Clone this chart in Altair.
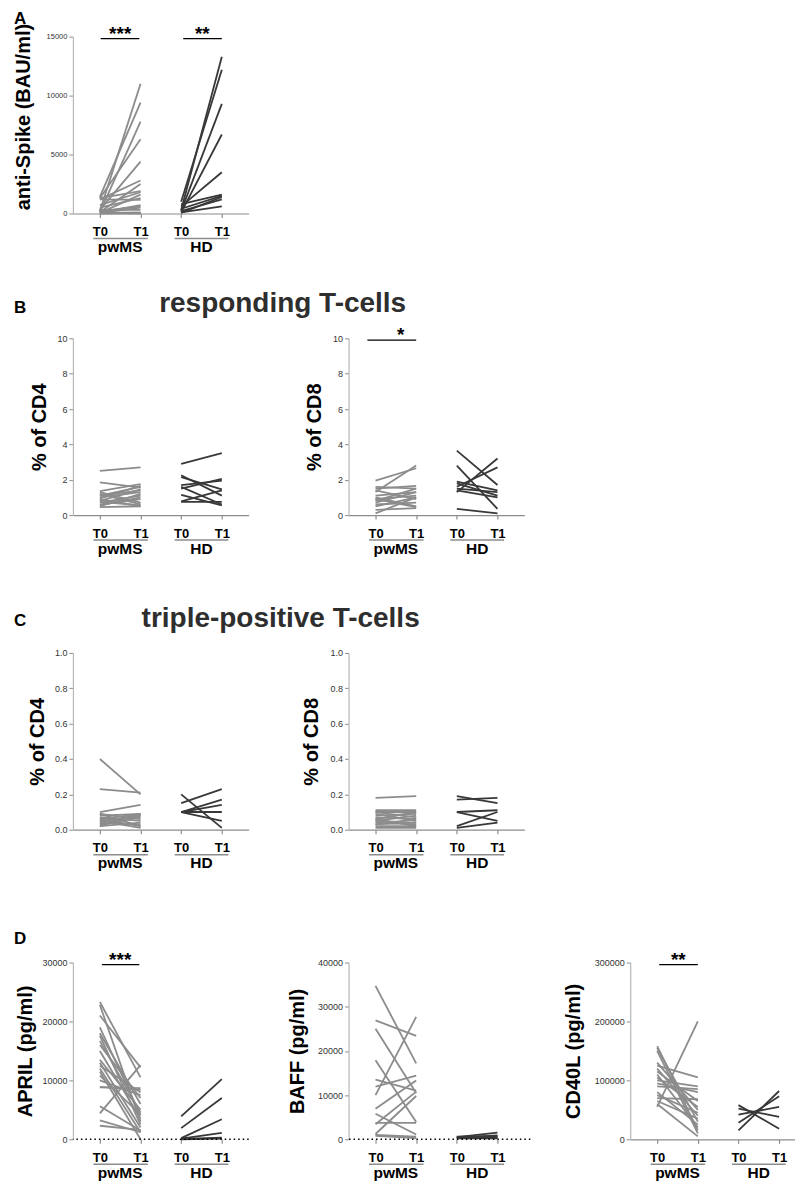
import altair as alt
import pandas as pd

FONT = "Liberation Sans"
PW_COLOR = "#8c8c8c"
HD_COLOR = "#383838"
AXIS_GRAY = "#8c8c8c"
YAXIS_GRAY = "#b8b8b8"

GROUPS = ["pwMS", "HD"]
TIME_LABELS = ["T0", "T1"]

# ---- Panel A: anti-Spike (BAU/ml) ----
A_PW_T0 = [200, 1400, 100, 1300, 300, 1200, 100, 1200, 700, 50, 500, 100, 200, 50, 300, 0, 100, 50, 0, 20, 1300]
A_PW_T1 = [11000, 9400, 7800, 6300, 4400, 2800, 2500, 1150, 1800, 1600, 1300, 700, 600, 500, 300, 100, 50, 20, 30, 10, 1900]
A_HD_T0 = [300, 1000, 200, 100, 600, 800, 400, 50, 100, 200]
A_HD_T1 = [13300, 12200, 9300, 6700, 3500, 1600, 1500, 1400, 600, 1200]

# ---- Panel B: responding T-cells ----
B4_PW_T0 = [2.5, 1.85, 1.35, 1.2, 1.1, 1.0, 0.9, 0.8, 0.7, 0.6, 0.5, 0.45, 1.3, 0.95, 0.55, 1.1, 0.75]
B4_PW_T1 = [2.7, 1.55, 1.75, 0.6, 1.6, 1.3, 0.5, 1.45, 1.1, 0.9, 1.2, 0.5, 0.7, 1.65, 1.0, 1.4, 0.55]
B4_HD_T0 = [2.9, 2.25, 2.15, 1.7, 1.6, 1.5, 1.15, 0.78, 0.75]
B4_HD_T1 = [3.5, 1.1, 1.45, 1.95, 0.6, 2.05, 0.55, 1.4, 0.75]

B8_PW_T0 = [1.95, 1.3, 1.6, 1.5, 1.4, 1.1, 1.0, 0.9, 0.8, 0.6, 0.5, 0.3, 0.1, 0.7, 0.9]
B8_PW_T1 = [2.65, 2.8, 1.5, 1.65, 0.9, 1.3, 0.5, 1.1, 1.5, 0.7, 1.0, 0.4, 1.0, 1.3, 0.45]
B8_HD_T0 = [3.65, 2.8, 1.3, 1.6, 1.9, 1.8, 1.5, 1.4, 0.35]
B8_HD_T1 = [1.7, 0.35, 3.2, 2.7, 1.4, 1.1, 1.3, 1.0, 0.1]

# ---- Panel C: triple-positive T-cells ----
C4_PW_T0 = [0.40, 0.23, 0.10, 0.09, 0.08, 0.07, 0.06, 0.05, 0.04, 0.03, 0.02, 0.09, 0.05, 0.06, 0.03, 0.02]
C4_PW_T1 = [0.20, 0.21, 0.14, 0.02, 0.09, 0.05, 0.09, 0.08, 0.03, 0.07, 0.04, 0.06, 0.01, 0.02, 0.09, 0.08]
C4_HD_T0 = [0.20, 0.15, 0.10, 0.10, 0.10, 0.10]
C4_HD_T1 = [0.01, 0.23, 0.17, 0.14, 0.10, 0.05]

C8_PW_T0 = [0.18, 0.11, 0.10, 0.09, 0.08, 0.07, 0.06, 0.05, 0.04, 0.03, 0.02, 0.01, 0.05, 0.10, 0.03, 0.06]
C8_PW_T1 = [0.19, 0.11, 0.10, 0.05, 0.09, 0.06, 0.10, 0.04, 0.03, 0.06, 0.02, 0.01, 0.08, 0.07, 0.04, 0.02]
C8_HD_T0 = [0.19, 0.17, 0.10, 0.10, 0.02, 0.01]
C8_HD_T1 = [0.15, 0.18, 0.05, 0.11, 0.10, 0.04]

# ---- Panel D: cytokines (pg/ml) ----
APRIL_PW_T0 = [23300, 22800, 21000, 19000, 18000, 17600, 16700, 16000, 15000, 13500, 13000, 12500, 12000, 11500, 10800, 10000, 8900, 8800, 5600, 4400, 3200, 2300]
APRIL_PW_T1 = [10500, 3000, 12200, 4000, 6000, 2500, 4500, 7000, 3500, 5000, 2000, 8000, 1200, 0, 4200, 7500, 8400, 8700, 1500, 12600, 1200, 1600]
APRIL_HD_T0 = [3900, 1900, 200, 100, 50, 0]
APRIL_HD_T1 = [10200, 7000, 3400, 1100, 300, 100]

BAFF_PW_T0 = [34700, 26900, 25000, 17900, 13500, 11900, 10000, 6900, 5800, 3700, 3400, 1000, 800, 1200]
BAFF_PW_T1 = [17200, 23400, 10500, 3900, 11000, 14400, 27700, 13300, 1100, 3700, 10800, 600, 300, 9800]
BAFF_HD_T0 = [500, 600, 400, 300, 200, 500]
BAFF_HD_T1 = [1500, 700, 400, 900, 200, 600]

CD40L_PW_T0 = [55000, 158000, 155000, 150000, 130000, 125000, 120000, 115000, 110000, 105000, 100000, 90000, 80000, 75000, 70000, 65000, 60000, 95000]
CD40L_PW_T1 = [200000, 15000, 30000, 10000, 50000, 105000, 40000, 65000, 20000, 55000, 90000, 85000, 25000, 45000, 68000, 35000, 5000, 80000]
CD40L_HD_T0 = [58000, 52000, 42000, 28000, 15000]
CD40L_HD_T1 = [18000, 38000, 55000, 73000, 82000]

PX_PER_UNIT = 40.7
LEFT_GAP = 27


def long_df(pw0, pw1, hd0, hd1):
    rows = []
    for i, (a, b) in enumerate(zip(pw0, pw1)):
        rows.append({"id": f"p{i}", "grp": "pwMS", "pos": 1, "val": a})
        rows.append({"id": f"p{i}", "grp": "pwMS", "pos": 2, "val": b})
    for i, (a, b) in enumerate(zip(hd0, hd1)):
        rows.append({"id": f"h{i}", "grp": "HD", "pos": 3, "val": a})
        rows.append({"id": f"h{i}", "grp": "HD", "pos": 4, "val": b})
    return pd.DataFrame(rows)


def note_layer(text, x, y, size, color="black", align="left"):
    return alt.Chart(pd.DataFrame({"t": [text]})).mark_text(
        font=FONT, fontSize=size, fontWeight="bold", color=color,
        align=align, baseline="alphabetic"
    ).encode(x=alt.value(x), y=alt.value(y), text="t:N")


def make_panel(df, ymax, ystep, ytitle, title_x, width=176, height=177, title_y=None,
               label_size=9, fmt="d", dotted=False, sig=None, notes=(), anchor=False):
    x_lo = 1 - LEFT_GAP / PX_PER_UNIT
    xs = alt.Scale(domain=[x_lo, x_lo + width / PX_PER_UNIT], nice=False, zero=False)
    ys = alt.Scale(domain=[0, ymax], nice=False, zero=False)
    n = int(round(ymax / ystep))
    yvals = [round(i * ystep, 6) for i in range(n + 1)]
    xaxis = alt.Axis(
        values=[1, 2, 3, 4], labelExpr="datum.value % 2 == 1 ? 'T0' : 'T1'",
        title=None, grid=False, domain=not dotted, domainColor=AXIS_GRAY, domainWidth=1.2,
        tickColor=AXIS_GRAY, tickSize=4, tickWidth=1.2, labelPadding=8, labelFont=FONT,
        labelFontSize=13, labelFontWeight="bold", labelColor="black", labelOverlap=False,
        labelFlush=False,
    )
    yaxis = alt.Axis(
        values=yvals, format=fmt, title=ytitle, titleX=title_x,
        titleY=title_y if title_y is not None else height / 2,
        titleBaseline="middle", titleAlign="center", titleAngle=270,
        titleFont=FONT, titleFontSize=20, titleFontWeight="bold", titleColor="black",
        grid=False, domainColor=YAXIS_GRAY, domainWidth=1.2, tickColor=AXIS_GRAY,
        tickSize=4, labelPadding=2, labelFont=FONT, labelFontSize=label_size,
        labelColor="#333333",
    )

    def X(f):
        return alt.X(f"{f}:Q", scale=xs, axis=xaxis)

    def Y(f):
        return alt.Y(f"{f}:Q", scale=ys, axis=yaxis)

    layers = []
    layers.append(
        alt.Chart(df).mark_line(strokeWidth=1.8, strokeCap="butt").encode(
            x=X("pos"), y=Y("val"), detail="id:N",
            color=alt.Color("grp:N", scale=alt.Scale(domain=GROUPS, range=[PW_COLOR, HD_COLOR]), legend=None),
        )
    )
    if dotted:
        layers.append(
            alt.Chart(pd.DataFrame({"zero": [0]})).mark_rule(
                color="black", strokeDash=[1.5, 3], strokeWidth=1.5
            ).encode(y=Y("zero"))
        )
    gdf = pd.DataFrame({"grp": GROUPS, "x1": [0.84, 2.84], "x2": [2.18, 4.16], "xm": [1.5, 3.5]})
    layers.append(
        alt.Chart(gdf).mark_rule(color=AXIS_GRAY, strokeWidth=1.5).encode(
            x=X("x1"), x2="x2:Q", y=alt.value(height + 25)
        )
    )
    layers.append(
        alt.Chart(gdf).mark_text(
            font=FONT, fontSize=15.5, fontWeight="bold", color="black",
            align="center", baseline="alphabetic"
        ).encode(x=X("xm"), y=alt.value(height + 38.5), text="grp:N")
    )
    if sig is not None:
        sdf = pd.DataFrame(sig)
        layers.append(
            alt.Chart(sdf).mark_rule(color="black", strokeWidth=1.3).encode(
                x=X("x1"), x2="x2:Q", y=Y("y")
            )
        )
        layers.append(
            alt.Chart(sdf).mark_text(
                font=FONT, fontSize=19, fontWeight="bold", color="black",
                align="center", baseline="alphabetic", dy=1
            ).encode(x=X("xm"), y=Y("y"), text="stars:N")
        )
    for nt in notes:
        layers.append(note_layer(*nt))
    if anchor:
        layers.append(
            alt.Chart(pd.DataFrame({"a": [0]})).mark_point(opacity=0, size=1).encode(
                x=alt.value(-72), y=alt.value(-35)
            )
        )
    return alt.layer(*layers).properties(width=width, height=height)


def placeholder(h):
    return alt.Chart(pd.DataFrame({"a": [0]})).mark_point(opacity=0, size=1).encode(
        x=alt.value(0), y=alt.value(0)
    ).properties(width=1, height=h)


panel_a = make_panel(
    long_df(A_PW_T0, A_PW_T1, A_HD_T0, A_HD_T1), 15000, 5000, "anti-Spike (BAU/ml)", -49,
    title_y=80, label_size=7.5,
    sig={"x1": [1.02, 3.05], "x2": [1.97, 4.0], "xm": [1.5, 3.52], "y": [14830, 14830], "stars": ["***", "**"]},
    notes=[("A", -59, -13, 17)], anchor=True,
)
panel_b4 = make_panel(
    long_df(B4_PW_T0, B4_PW_T1, B4_HD_T0, B4_HD_T1), 10, 2, "% of CD4", -33,
    notes=[("B", -59, -25, 17), ("responding T-cells", 210, -26, 28, "#2e2e2e", "center")],
)
panel_b8 = make_panel(
    long_df(B8_PW_T0, B8_PW_T1, B8_HD_T0, B8_HD_T1), 10, 2, "% of CD8", -34,
    sig={"x1": [0.8], "x2": [2.0], "xm": [1.62], "y": [9.9], "stars": ["*"]},
)
panel_c4 = make_panel(
    long_df(C4_PW_T0, C4_PW_T1, C4_HD_T0, C4_HD_T1), 1.0, 0.2, "% of CD4", -35, fmt=".1f",
    notes=[("C", -59, -27, 17), ("triple-positive T-cells", 208, -26, 28, "#2e2e2e", "center")],
)
panel_c8 = make_panel(
    long_df(C8_PW_T0, C8_PW_T1, C8_HD_T0, C8_HD_T1), 1.0, 0.2, "% of CD8", -37, fmt=".1f",
)
panel_d1 = make_panel(
    long_df(APRIL_PW_T0, APRIL_PW_T1, APRIL_HD_T0, APRIL_HD_T1), 30000, 10000, "APRIL (pg/ml)", -47,
    dotted=True,
    sig={"x1": [1.05], "x2": [1.97], "xm": [1.5], "y": [29660], "stars": ["***"]},
    notes=[("D", -59, -19, 17)],
)
panel_d2 = make_panel(
    long_df(BAFF_PW_T0, BAFF_PW_T1, BAFF_HD_T0, BAFF_HD_T1), 40000, 10000, "BAFF (pg/ml)", -51,
    width=182, dotted=True,
)
panel_d3 = make_panel(
    long_df(CD40L_PW_T0, CD40L_PW_T1, CD40L_HD_T0, CD40L_HD_T1), 300000, 100000, "CD40L (pg/ml)", -57,
    width=165,
    sig={"x1": [1.05], "x2": [2.0], "xm": [1.52], "y": [296600], "stars": ["**"]},
)

chart = alt.concat(
    panel_a, placeholder(177), placeholder(1),
    panel_b4, panel_b8, placeholder(190),
    panel_c4, panel_c8, placeholder(185),
    panel_d1, panel_d2, panel_d3,
    columns=3, spacing={"row": 125, "column": 100}, bounds="flush", align="each",
).properties(padding=0, background="white").configure_view(stroke=None)

chart.save("out.html", embed_options={"renderer": "svg", "actions": False})
